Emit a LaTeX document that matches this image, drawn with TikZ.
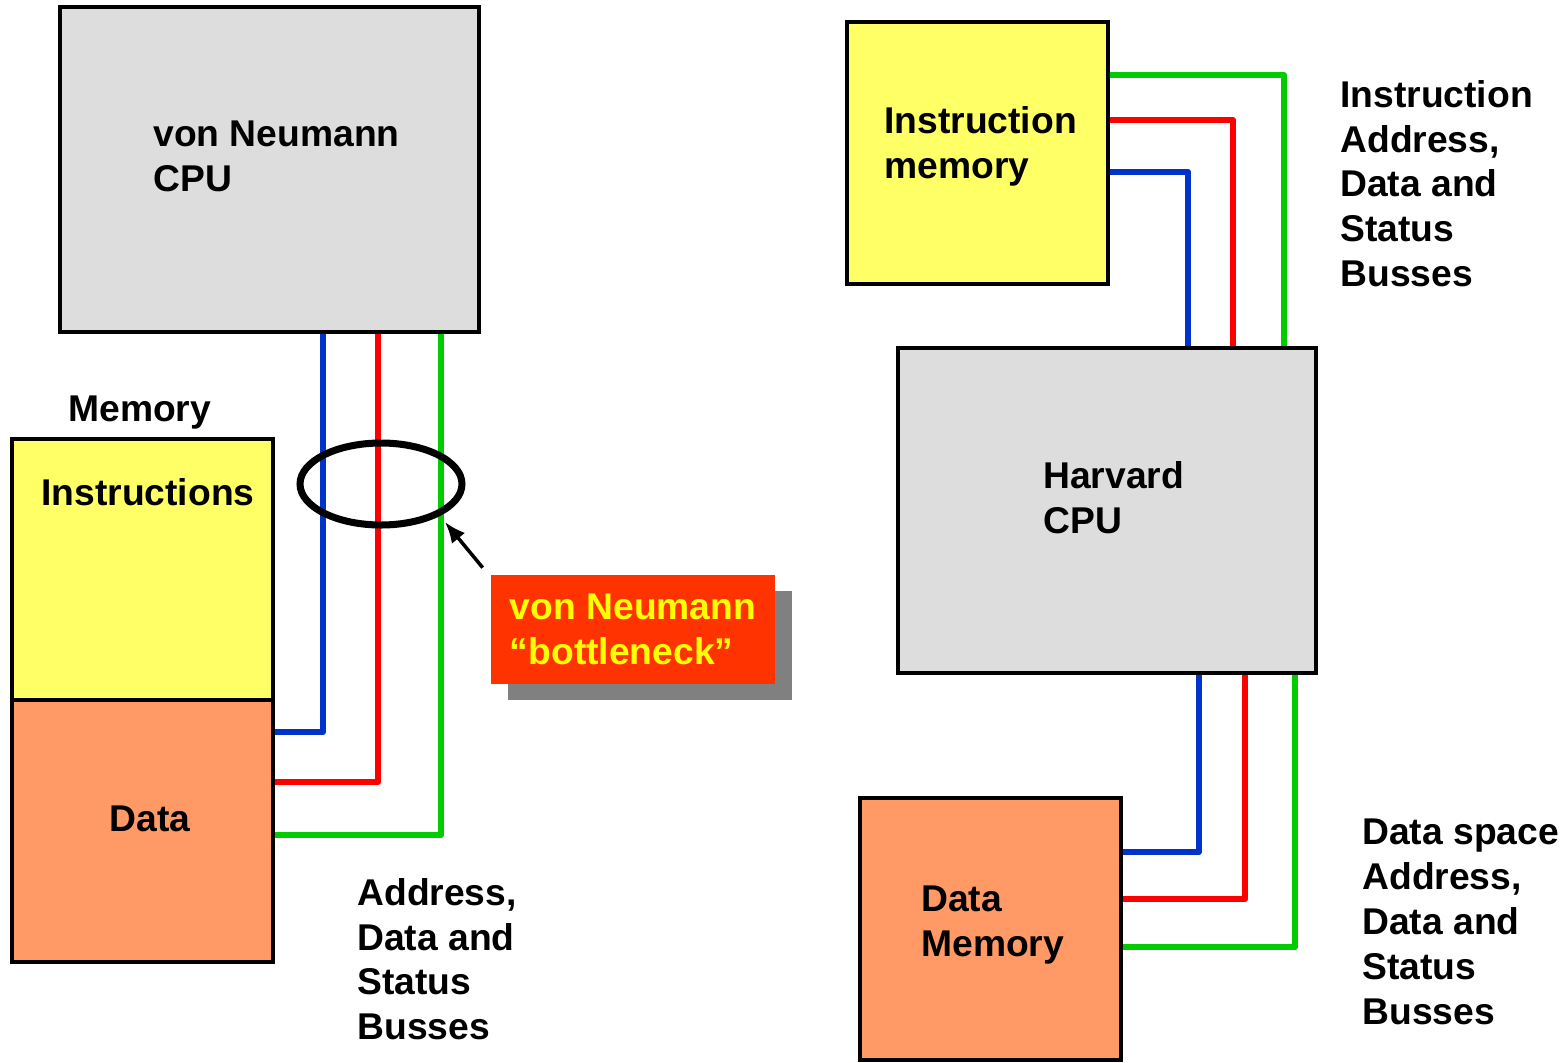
\documentclass[tikz,border=0pt]{standalone}
\usepackage{fontspec}
\setmainfont{Liberation Sans}
\usepackage{tikz}
\usetikzlibrary{positioning, arrows.meta, shapes.geometric, shadows}
\definecolor{cpugray}{HTML}{DDDDDD}
\definecolor{memyellow}{HTML}{FFFF66}
\definecolor{memorange}{HTML}{FF9966}
\definecolor{busblue}{HTML}{0033CC}
\definecolor{busred}{HTML}{FF0000}
\definecolor{busgreen}{HTML}{00CC00}
\definecolor{neckred}{HTML}{FF3300}
\definecolor{neckyellow}{HTML}{FFFF00}

\begin{document}
\begin{tikzpicture}[x=0.02cm, y=-0.02cm,
    cpu/.style={draw, line width=1.8pt, fill=cpugray, minimum width=8.38cm,
                minimum height=6.5cm},
    memory/.style={draw, line width=1.8pt, minimum width=5.22cm,
                   minimum height=5.24cm},
    lbl/.style={font=\bfseries\fontsize{21.2}{25.5}\selectfont, align=left,
                inner sep=0pt, anchor=north west},
    bus/.style={line width=3.5pt, line join=round},
    ptr/.style={-{Latex[length=0.42cm, width=0.34cm]}, line width=2pt}]
    \useasboundingbox (0,0) rectangle (1564,1062);

    \node[cpu] (vncpu) at (269.5,169.5) {};
    \node[lbl] (vncpulbl) at (153,121) {von Neumann\\CPU};
    \node[lbl] (memlbl) at (68,396) {Memory};
    \node[memory, fill=memyellow, minimum height=5.22cm] (instr) at (142.5,569.5) {};
    \node[memory, fill=memorange] (data) at (142.5,831) {};
    \node[lbl] (instrlbl) at (41,478) {Instructions};
    \node[lbl, anchor=north] (datalbl) at (150,806) {Data};

    \draw[bus, busblue]  ([xshift=1.07cm]vncpu.south) |- ([yshift=1.98cm]data.east);
    \draw[bus, busred]   ([xshift=2.17cm]vncpu.south) |- ([yshift=0.98cm]data.east);
    \draw[bus, busgreen] ([xshift=3.43cm]vncpu.south) |- ([yshift=-0.08cm]data.east);
    \node[lbl] (vnbuslbl) at (357,878) {Address,\\Data and\\Status\\Busses};

    \node[draw, ellipse, line width=4pt, minimum width=3.24cm,
          minimum height=1.64cm] (neck) at (381,484) {};
    \node[fill=neckred, text=neckyellow, align=left,
          font=\bfseries\fontsize{21.2}{25.5}\selectfont,
          minimum width=5.68cm, minimum height=2.18cm,
          drop shadow={shadow xshift=0.34cm, shadow yshift=-0.32cm,
                       fill=black!50, opacity=1}] (bneck) at (633,629.5)
      {von Neumann\\“bottleneck”};
    \coordinate (neckhit) at (445,522);
    \draw[ptr] ([xshift=-0.16cm, yshift=0.14cm]bneck.north west) -- (neckhit);

    \node[memory, fill=memyellow] (imem) at (977.5,153) {};
    \node[lbl] (imemlbl) at (884,106) {Instruction\\memory};
    \node[cpu, minimum width=8.36cm] (hcpu) at (1107,510.5) {};
    \node[lbl] (hcpulbl) at (1043,461) {Harvard\\CPU};
    \node[memory, fill=memorange] (dmem) at (990.5,929) {};
    \node[lbl] (dmemlbl) at (921,886) {Data\\Memory};

    \draw[bus, busgreen] ([yshift=1.56cm]imem.east)  -| ([xshift=3.54cm]hcpu.north);
    \draw[bus, busred]   ([yshift=0.66cm]imem.east)  -| ([xshift=2.52cm]hcpu.north);
    \draw[bus, busblue]  ([yshift=-0.38cm]imem.east) -| ([xshift=1.62cm]hcpu.north);
    \node[lbl] (ibuslbl) at (1340,80) {Instruction\\Address,\\Data and\\Status\\Busses};

    \draw[bus, busblue]  ([xshift=1.84cm]hcpu.south) |- ([yshift=1.54cm]dmem.east);
    \draw[bus, busred]   ([xshift=2.76cm]hcpu.south) |- ([yshift=0.6cm]dmem.east);
    \draw[bus, busgreen] ([xshift=3.76cm]hcpu.south) |- ([yshift=-0.36cm]dmem.east);
    \node[lbl] (dbuslbl) at (1362,819) {Data space\\Address,\\Data and\\Status\\Busses};
  \end{tikzpicture}
\end{document}
